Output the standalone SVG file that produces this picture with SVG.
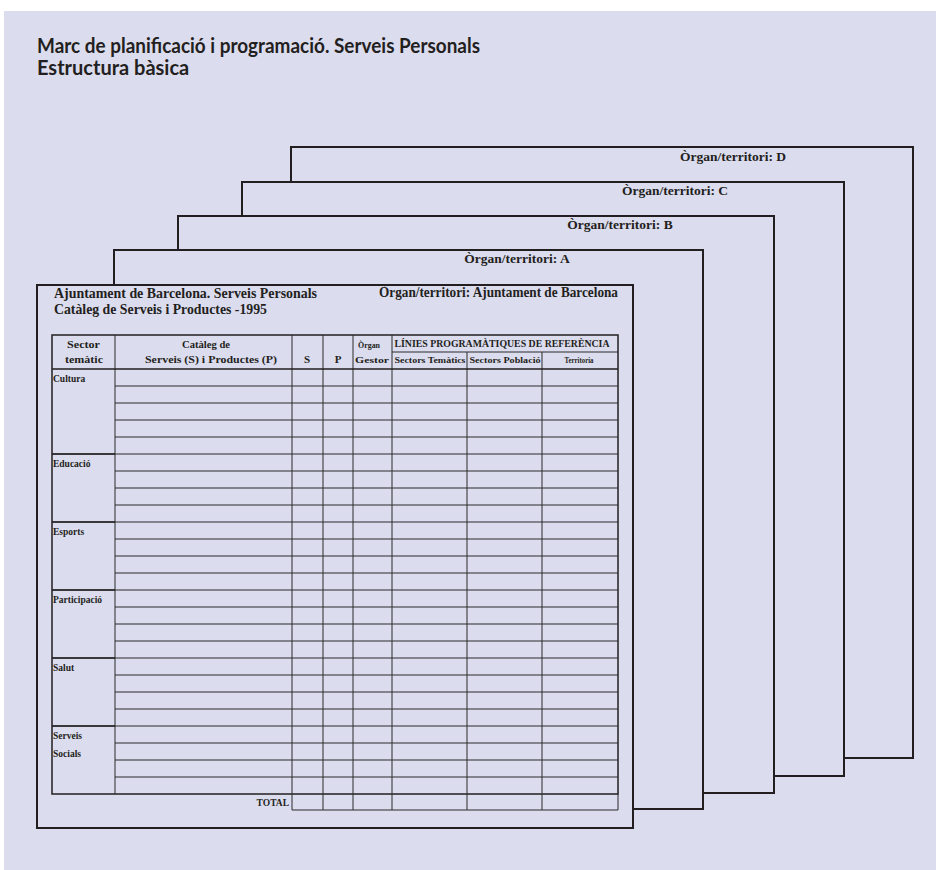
<svg xmlns="http://www.w3.org/2000/svg" width="936" height="870" viewBox="0 0 936 870">
<style>
.page{fill:#dcdcef;stroke:#231f20;stroke-width:2}
.title{font-family:Lato,"Liberation Sans",sans-serif;font-size:20px;font-weight:bold;fill:#231f20}
.lbl{font-family:"Liberation Serif",serif;font-weight:bold;fill:#231f20}
.grid{fill:none;stroke:#2a2a2a;stroke-width:1}
.outer{fill:none;stroke:#231f20;stroke-width:1.5}
</style>
<rect x="4" y="11" width="932" height="859" fill="#dcdcef"/>
<text class="title" x="37" y="53" textLength="443" lengthAdjust="spacingAndGlyphs">Marc de planificació i programació. Serveis Personals</text>
<text class="title" x="37" y="75">Estructura bàsica</text>

<g id="page-D">
<rect class="page" x="291" y="147" width="622" height="611"/>
<text class="lbl" x="733" y="161" font-size="13.5" text-anchor="middle">Òrgan/territori: D</text>
</g>
<g id="page-C">
<rect class="page" x="242" y="182" width="602" height="594"/>
<text class="lbl" x="675" y="195" font-size="13.5" text-anchor="middle">Òrgan/territori: C</text>
</g>
<g id="page-B">
<rect class="page" x="178" y="216" width="596" height="577"/>
<text class="lbl" x="620" y="229" font-size="13.5" text-anchor="middle">Òrgan/territori: B</text>
</g>
<g id="page-A">
<rect class="page" x="114" y="250" width="589" height="559"/>
<text class="lbl" x="517" y="263" font-size="13.5" text-anchor="middle">Òrgan/territori: A</text>
</g>

<g id="page-front">
<rect class="page" x="37" y="285" width="596" height="543"/>
<text class="lbl" x="54" y="298" font-size="14" textLength="263" lengthAdjust="spacingAndGlyphs">Ajuntament de Barcelona. Serveis Personals</text>
<text class="lbl" x="54" y="314" font-size="14" textLength="213" lengthAdjust="spacingAndGlyphs">Catàleg de Serveis i Productes -1995</text>
<text class="lbl" x="379" y="297" font-size="14" textLength="239" lengthAdjust="spacingAndGlyphs">Òrgan/territori: Ajuntament de Barcelona</text>

<g id="table">
<rect class="outer" x="52" y="335" width="566" height="459"/>
<path class="grid" d="M392 352H618
M115 335V794 M292 335V810 M323 335V810 M353 335V810 M392 335V810 M467 352V810 M542 352V810 M618 794V810 M292 810H618
M115 386H618 M115 403H618 M115 420H618 M115 437H618
M52 454H618 M115 471H618 M115 488H618 M115 505H618
M52 522H618 M115 539H618 M115 556H618 M115 573H618
M52 590H618 M115 607H618 M115 624H618 M115 641H618
M52 658H618 M115 675H618 M115 692H618 M115 709H618
M52 726H618 M115 743H618 M115 760H618 M115 777H618"/>
<path d="M52 454H115 M52 522H115 M52 590H115 M52 658H115 M52 726H115 M52 369H618" stroke="#231f20" stroke-width="1.5" fill="none"/>
<g class="lbl" font-size="11" text-anchor="middle" lengthAdjust="spacingAndGlyphs">
<text x="83.5" y="348" textLength="33" lengthAdjust="spacingAndGlyphs">Sector</text>
<text x="84" y="363" textLength="38" lengthAdjust="spacingAndGlyphs">temàtic</text>
<text x="206" y="348" textLength="48" lengthAdjust="spacingAndGlyphs">Catàleg de</text>
<text x="211" y="363" textLength="132" lengthAdjust="spacingAndGlyphs">Serveis (S) i Productes (P)</text>
<text x="307" y="363">S</text>
<text x="338" y="363">P</text>
</g>
<g class="lbl" font-size="9" text-anchor="middle">
<text x="369" y="348" textLength="22" lengthAdjust="spacingAndGlyphs">Òrgan</text>
<text x="372" y="363" textLength="34" lengthAdjust="spacingAndGlyphs">Gestor</text>
<text x="430" y="363" textLength="71" lengthAdjust="spacingAndGlyphs">Sectors Temàtics</text>
<text x="505" y="363" textLength="71" lengthAdjust="spacingAndGlyphs">Sectors Població</text>
<text x="579" y="363" textLength="29" lengthAdjust="spacingAndGlyphs">Territoria</text>
</g>
<text class="lbl" x="502" y="347" font-size="10" text-anchor="middle" textLength="215" lengthAdjust="spacingAndGlyphs">LÍNIES PROGRAMÀTIQUES DE REFERÈNCIA</text>
<g class="lbl" font-size="9.5">
<text x="53" y="382">Cultura</text>
<text x="53" y="467">Educació</text>
<text x="53" y="535">Esports</text>
<text x="53" y="603">Participació</text>
<text x="53" y="671">Salut</text>
<text x="53" y="739">Serveis</text>
<text x="53" y="757">Socials</text>
</g>
<text class="lbl" x="289" y="806" font-size="9.5" text-anchor="end">TOTAL</text>
</g>
</g>
</svg>
